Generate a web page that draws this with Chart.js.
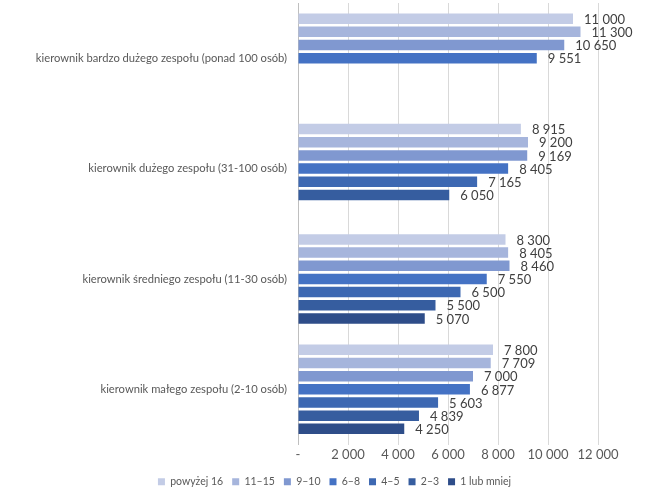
<!DOCTYPE html>
<html lang="pl">
<head>
<meta charset="utf-8">
<title>Wynagrodzenia kierowników</title>
<script src="https://cdn.jsdelivr.net/npm/chart.js@4/dist/chart.umd.min.js"></script>
<style>
    html, body { margin: 0; padding: 0; background: #fff; }
    #wrap { width: 669px; height: 503px; position: relative; }
</style>
</head>
<body>
<div id="wrap"><canvas id="salaryChart"></canvas></div>
<script>
// categories, top to bottom
const categories = [
    'kierownik bardzo dużego zespołu (ponad 100 osób)',
    'kierownik dużego zespołu (31-100 osób)',
    'kierownik średniego zespołu (11-30 osób)',
    'kierownik małego zespołu (2-10 osób)'
];

// series (team-size experience buckets), values per category
const seriesNames = ['powyżej 16', '11–15', '9–10', '6–8', '4–5', '2–3', '1 lub mniej'];
const over16   = [11000, 8915, 8300, 7800];
const y11to15  = [11300, 9200, 8405, 7709];
const y9to10   = [10650, 9169, 8460, 7000];
const y6to8    = [9551, 8405, 7550, 6877];
const y4to5    = [null, 7165, 6500, 5603];
const y2to3    = [null, 6050, 5500, 4839];
const y1orLess = [null, null, 5070, 4250];

const xTicks = [0, 2000, 4000, 6000, 8000, 10000, 12000];

const colors = ['#c3cce6', '#a6b5dc', '#8098d0', '#4472c4', '#3d68b2', '#365d9f', '#2e4d89'];
const seriesValues = [over16, y11to15, y9to10, y6to8, y4to5, y2to3, y1orLess];

const fmt = (v) => v === 0 ? '-' : String(v).replace(/\B(?=(\d{3})+(?!\d))/g, ' ');

const FONT = 'Lato, "Open Sans", sans-serif';

// value labels at the end of each bar
const barLabels = {
    id: 'barLabels',
    afterDatasetsDraw(chart) {
        const ctx = chart.ctx;
        ctx.save();
        ctx.font = '13px ' + FONT;
        ctx.fillStyle = '#404040';
        ctx.textAlign = 'left';
        ctx.textBaseline = 'middle';
        chart.data.datasets.forEach((ds, i) => {
            const meta = chart.getDatasetMeta(i);
            meta.data.forEach((bar, j) => {
                const v = ds.data[j];
                if (v == null) return;
                ctx.fillText(fmt(v), bar.x + 11, bar.y + 1);
            });
        });
        ctx.restore();
    }
};

new Chart(document.getElementById('salaryChart'), {
    type: 'bar',
    data: {
        labels: categories,
        datasets: seriesNames.map((name, i) => ({
            label: name,
            data: seriesValues[i],
            backgroundColor: colors[i],
            borderWidth: 0,
            categoryPercentage: 0.835,
            barPercentage: 0.8
        }))
    },
    options: {
        indexAxis: 'y',
        responsive: true,
        maintainAspectRatio: false,
        animation: false,
        layout: { padding: { top: 3, right: 0, left: 0, bottom: 6 } },
        plugins: {
            legend: {
                position: 'bottom',
                labels: {
                    boxWidth: 7,
                    boxHeight: 7,
                    padding: 9,
                    color: '#595959',
                    font: { family: FONT, size: 10.5 }
                }
            },
            tooltip: { enabled: false }
        },
        scales: {
            x: {
                min: 0,
                max: 12000,
                afterBuildTicks: (scale) => { scale.ticks = xTicks.map(v => ({ value: v })); },
                afterFit: (scale) => {
                    scale.height = 23;
                    scale.paddingLeft = 0;
                    scale.paddingRight = 0;
                },
                ticks: {
                    color: '#595959',
                    font: { family: FONT, size: 13 },
                    padding: 3,
                    callback: (v) => fmt(v)
                },
                grid: { color: '#d9d9d9', drawTicks: false },
                border: { display: false }
            },
            y: {
                afterFit: (scale) => {
                    scale.width = 298;
                    scale.paddingTop = 0;
                    scale.paddingBottom = 0;
                },
                ticks: {
                    color: '#595959',
                    font: { family: FONT, size: 11.2 },
                    padding: 11
                },
                grid: { display: false, drawTicks: false },
                border: { color: '#bfbfbf' }
            },
            // empty right-hand gutter that leaves room for the value labels
            gutter: {
                axis: 'y',
                position: 'right',
                afterFit: (scale) => {
                    scale.width = 71;
                    scale.paddingTop = 0;
                    scale.paddingBottom = 0;
                },
                ticks: { display: false },
                grid: { display: false, drawTicks: false },
                border: { display: false }
            }
        }
    },
    plugins: [barLabels]
});
</script>
</body>
</html>
